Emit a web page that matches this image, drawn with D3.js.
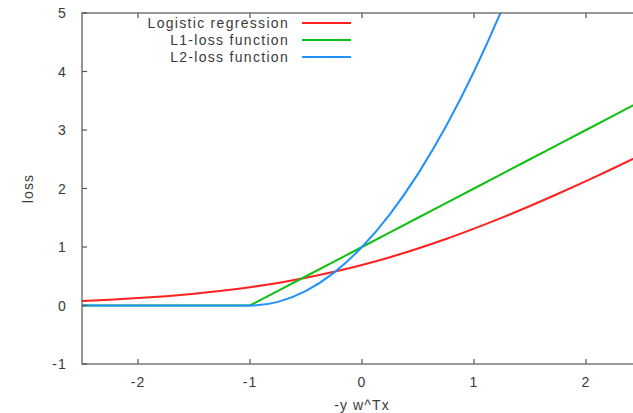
<!DOCTYPE html>
<html>
<head>
<meta charset="utf-8">
<script src="https://cdn.jsdelivr.net/npm/d3@7"></script>
<style>
  body { margin: 0; background: #fff; }
  text { font-family: "Liberation Sans", Arial, sans-serif; fill: #3a3a3a; }
</style>
</head>
<body>
<div id="chart"></div>
<script>
const xs = [-2.5, -2.25, -2, -1.75, -1.5, -1.25, -1, -0.75, -0.5, -0.25, 0,
  0.25, 0.5, 0.75, 1, 1.25, 1.5, 1.75, 2, 2.25, 2.5];
const logistic = [0.079, 0.100, 0.127, 0.160, 0.201, 0.252, 0.313, 0.386, 0.474, 0.576, 0.693,
  0.826, 0.974, 1.136, 1.313, 1.502, 1.701, 1.910, 2.127, 2.350, 2.579];
const l1 = [0, 0, 0, 0, 0, 0, 0, 0.25, 0.5, 0.75, 1,
  1.25, 1.5, 1.75, 2, 2.25, 2.5, 2.75, 3, 3.25, 3.5];
const l2 = [0, 0, 0, 0, 0, 0, 0, 0.0625, 0.25, 0.5625, 1,
  1.5625, 2.25, 3.0625, 4, 5.0625, 6.25, 7.5625, 9, 10.5625, 12.25];

const xTicks = [-2, -1, 0, 1, 2];
const yTicks = [-1, 0, 1, 2, 3, 4, 5];
const seriesNames = ['Logistic regression', 'L1-loss function', 'L2-loss function'];
const seriesColors = ['#ff2020', '#10c010', '#2090ff'];

const width = 633, height = 413;
const margins = { left: 82, right: -9, top: 13, bottom: 49 };

const svg = d3.select('#chart').append('svg').attr('width', width).attr('height', height);

const x = d3.scaleLinear().domain([-2.5, 2.5]).range([margins.left, width - margins.right]);
const y = d3.scaleLinear().domain([-1, 5]).range([height - margins.bottom, margins.top]);

svg.append('clipPath').attr('id', 'plot-clip')
  .append('rect')
  .attr('x', x(-2.5)).attr('y', y(5))
  .attr('width', x(2.5) - x(-2.5)).attr('height', y(-1) - y(5));

const axisColor = '#555';

// tick labels
const tickFont = 14;
const spacing = '1.1px';
svg.append('g').selectAll('text').data(yTicks).join('text')
  .attr('x', margins.left - 15).attr('y', (d) => y(d) + 5)
  .attr('text-anchor', 'end').attr('font-size', tickFont)
  .style('letter-spacing', spacing)
  .text((d) => d);
svg.append('g').selectAll('text').data(xTicks).join('text')
  .attr('x', (d) => x(d)).attr('y', y(-1) + 23)
  .attr('text-anchor', 'middle').attr('font-size', tickFont)
  .style('letter-spacing', spacing)
  .text((d) => d);

// axis titles
svg.append('text').attr('x', x(0)).attr('y', 410)
  .attr('text-anchor', 'middle').attr('font-size', tickFont)
  .style('letter-spacing', spacing).text('-y w^Tx');
svg.append('text').attr('transform', `translate(33, ${y(2)}) rotate(-90)`)
  .attr('text-anchor', 'middle').attr('font-size', tickFont)
  .style('letter-spacing', spacing).text('loss');

// curves
const series = [logistic, l1, l2];
const curves = [d3.curveMonotoneX, d3.curveLinear, d3.curveMonotoneX];
const plot = svg.append('g').attr('clip-path', 'url(#plot-clip)');
series.forEach((vals, i) => {
  const line = d3.line()
    .x((d, j) => x(xs[j]))
    .y((d) => y(d))
    .curve(curves[i]);
  plot.append('path').datum(vals)
    .attr('fill', 'none')
    .attr('stroke', seriesColors[i])
    .attr('stroke-width', 2)
    .attr('d', line);
});

// frame and inward ticks
const frame = svg.append('g').attr('stroke', axisColor).attr('stroke-width', 1.2).attr('fill', 'none');
frame.append('rect')
  .attr('x', x(-2.5)).attr('y', y(5))
  .attr('width', x(2.5) - x(-2.5)).attr('height', y(-1) - y(5));
xTicks.forEach((t) => {
  frame.append('line').attr('x1', x(t)).attr('x2', x(t)).attr('y1', y(-1)).attr('y2', y(-1) - 5);
  frame.append('line').attr('x1', x(t)).attr('x2', x(t)).attr('y1', y(5)).attr('y2', y(5) + 5);
});
yTicks.forEach((t) => {
  frame.append('line').attr('x1', x(-2.5)).attr('x2', x(-2.5) + 5).attr('y1', y(t)).attr('y2', y(t));
  frame.append('line').attr('x1', x(2.5)).attr('x2', x(2.5) - 5).attr('y1', y(t)).attr('y2', y(t));
});

// legend
const legend = svg.append('g');
seriesNames.forEach((name, i) => {
  const ly = 23 + i * 17;
  legend.append('text').attr('x', 289).attr('y', ly + 5)
    .attr('text-anchor', 'end').attr('font-size', tickFont)
    .style('letter-spacing', '1.3px').text(name);
  legend.append('line').attr('x1', 302).attr('x2', 351).attr('y1', ly).attr('y2', ly)
    .attr('stroke', seriesColors[i]).attr('stroke-width', 2);
});
</script>
</body>
</html>
